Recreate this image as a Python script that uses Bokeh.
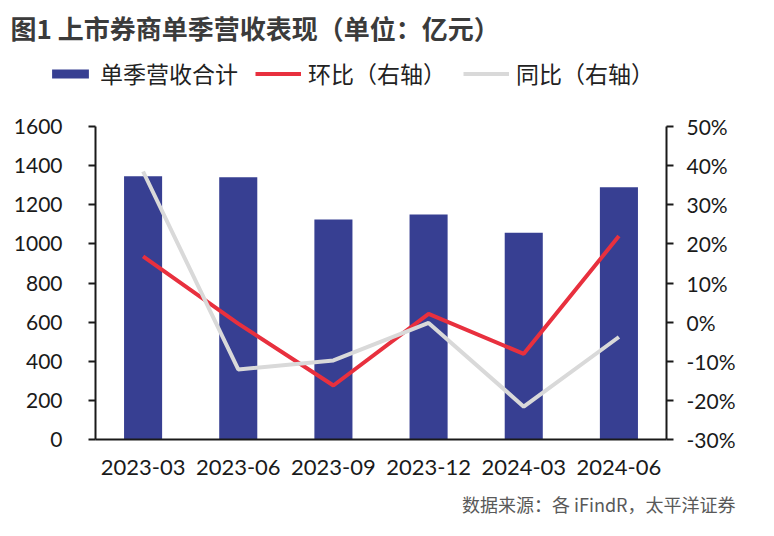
from bokeh.plotting import figure
from bokeh.layouts import column
from bokeh.models import (Range1d, LinearAxis, FixedTicker, PrintfTickFormatter,
                          Legend, LegendItem, Title, Label, ColumnDataSource)
from bokeh.embed import file_html
from bokeh.resources import INLINE

# ---- data ----
quarters = ["2023-03", "2023-06", "2023-09", "2023-12", "2024-03", "2024-06"]
revenue = [1346, 1341, 1125, 1150, 1057, 1290]          # 单季营收合计 (亿元)
qoq_pct = [16.8, -0.4, -16.2, 2.1, -8.1, 22.0]           # 环比 (%)
yoy_pct = [38.5, -12.1, -9.8, -0.2, -21.6, -3.8]         # 同比 (%)
left_ticks = [0, 200, 400, 600, 800, 1000, 1200, 1400, 1600]
right_ticks = [-30, -20, -10, 0, 10, 20, 30, 40, 50]
series_names = ["单季营收合计", "环比（右轴）", "同比（右轴）"]

title_text = "图1  上市券商单季营收表现（单位：亿元）"
source_text = "数据来源：各 iFindR，太平洋证券"

BAR = "#373F92"
RED = "#E8303E"
GRAY = "#D9D9D9"
AX = "#1A1A1A"
CJK = "Noto Sans CJK SC"
NUM = "Lato"
NAN = float("nan")

W = 766
HEAD_H = 110

# ---------- header: title + legend ----------
head = figure(width=W, height=HEAD_H, x_range=Range1d(0, W), y_range=Range1d(0, HEAD_H),
              x_axis_location=None, y_axis_location=None, min_border=0,
              toolbar_location=None, output_backend="svg")
head.frame_align = False
head.xgrid.grid_line_color = None
head.ygrid.grid_line_color = None
head.outline_line_color = None

head.add_layout(Label(x=10, y=HEAD_H - 27, text=title_text, text_baseline="middle",
                      text_font=CJK, text_font_size="26px", text_font_style="bold",
                      text_color="#3B3B3B"))

# legend keys (no visible marks; styles mirror the chart's series)
k_bar = head.vbar(x=[NAN], top=[NAN], width=0.4, color=BAR, line_color=None)
k_red = head.line(x=[NAN], y=[NAN], line_color=RED, line_width=4)
k_gray = head.line(x=[NAN], y=[NAN], line_color=GRAY, line_width=4)
legend = Legend(items=[LegendItem(label=series_names[0], renderers=[k_bar]),
                       LegendItem(label=series_names[1], renderers=[k_red]),
                       LegendItem(label=series_names[2], renderers=[k_gray])],
                orientation="horizontal", location=(47, 20),
                glyph_width=46, glyph_height=11, label_standoff=7, spacing=17,
                padding=0, margin=0, border_line_alpha=0, background_fill_alpha=0,
                label_text_font=CJK, label_text_font_size="23px",
                label_text_color="#222222")
head.add_layout(legend)

# ---------- chart ----------
src = ColumnDataSource(dict(q=quarters, rev=revenue, qoq=qoq_pct, yoy=yoy_pct))

p = figure(x_range=quarters, y_range=Range1d(0, 1600), width=W, height=418,
           min_border_left=95, min_border_right=100, min_border_top=16,
           min_border_bottom=89, toolbar_location=None, output_backend="svg")
p.frame_align = False
p.extra_y_ranges = {"pct": Range1d(-30, 50)}
p.xgrid.grid_line_color = None
p.ygrid.grid_line_color = None
p.outline_line_color = None

bars = p.vbar(x="q", top="rev", width=0.4, source=src, color=BAR, line_color=None)
red = p.line(x="q", y="qoq", source=src, y_range_name="pct", line_color=RED, line_width=4)
gray = p.line(x="q", y="yoy", source=src, y_range_name="pct", line_color=GRAY, line_width=4)

ya = p.yaxis[0]
ya.ticker = FixedTicker(ticks=left_ticks)
ra = LinearAxis(y_range_name="pct", ticker=FixedTicker(ticks=right_ticks),
                formatter=PrintfTickFormatter(format="%d%%"))
p.add_layout(ra, "right")

for ax in (ya, ra):
    ax.axis_line_width = 2
    ax.axis_line_color = AX
    ax.major_tick_line_width = 2
    ax.major_tick_line_color = AX
    ax.major_tick_out = 7
    ax.major_tick_in = 0
    ax.minor_tick_line_color = None
    ax.major_label_text_font = NUM
    ax.major_label_text_font_size = "21px"
    ax.major_label_text_color = AX
ya.major_label_standoff = 26
ra.major_label_standoff = 13

xa = p.xaxis[0]
xa.axis_line_width = 2
xa.axis_line_color = AX
xa.major_tick_line_color = None
xa.minor_tick_line_color = None
xa.major_label_standoff = 14
xa.major_label_text_font = NUM
xa.major_label_text_font_size = "22px"
xa.major_label_text_color = AX

p.add_layout(Title(text=source_text, align="right", offset=-69, standoff=23,
                   text_font=CJK, text_font_size="18px", text_font_style="normal",
                   text_color="#595959"), "below")

layout = column(head, p, spacing=0)
open("out.html", "w").write(file_html(layout, INLINE))
